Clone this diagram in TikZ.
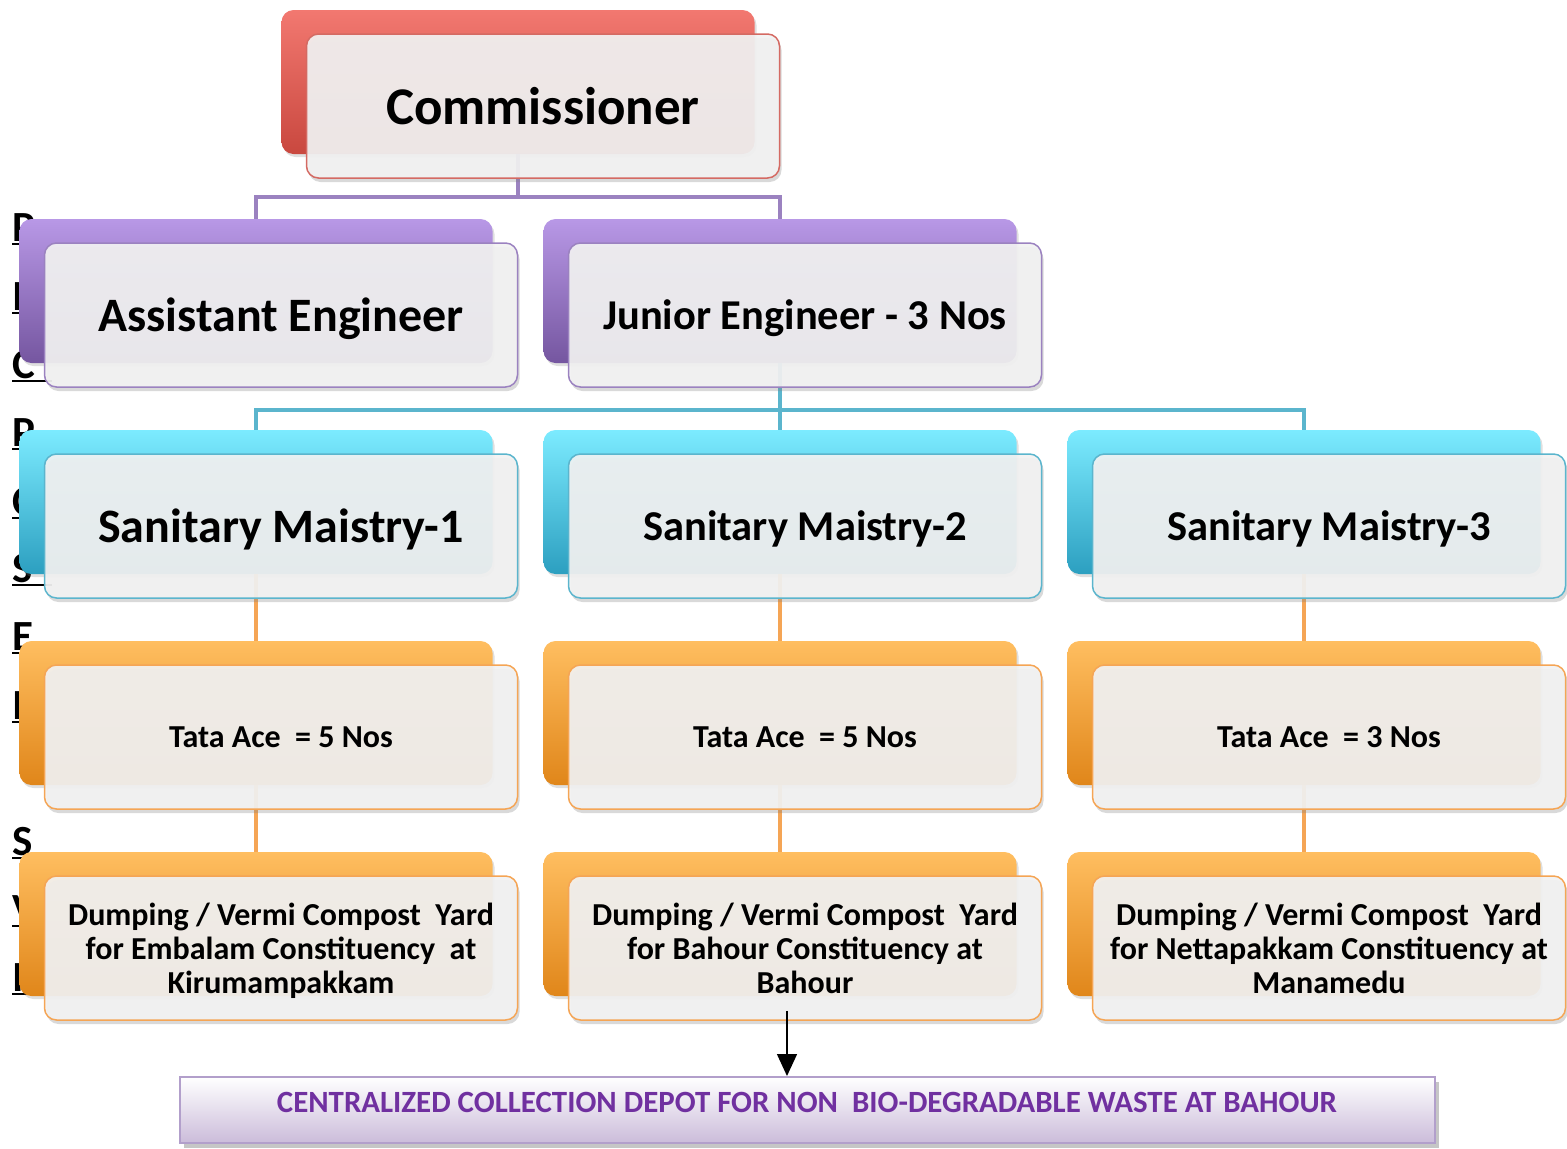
\documentclass[tikz,border=0pt]{standalone}
\usepackage{fontspec}
\setmainfont{Carlito}
\usetikzlibrary{shadows,arrows.meta}

\definecolor{redtop}{HTML}{F27870}
\definecolor{redmid}{HTML}{E35D53}
\definecolor{redbot}{HTML}{C9483F}
\definecolor{redline}{HTML}{D46A63}
\definecolor{purtop}{HTML}{B898E6}
\definecolor{purmid}{HTML}{9474BE}
\definecolor{purbot}{HTML}{7556A0}
\definecolor{purline}{HTML}{9B82C0}
\definecolor{cyntop}{HTML}{7CEBFF}
\definecolor{cynmid}{HTML}{46C4E2}
\definecolor{cynbot}{HTML}{2C9FC0}
\definecolor{cynline}{HTML}{5BB5CD}
\definecolor{orgtop}{HTML}{FFBE60}
\definecolor{orgmid}{HTML}{F7A035}
\definecolor{orgbot}{HTML}{E0861A}
\definecolor{orgline}{HTML}{F5A555}
\definecolor{depottop}{HTML}{FFFFFF}
\definecolor{depotbot}{HTML}{CBBCDA}
\definecolor{depotline}{HTML}{B29FCB}
\definecolor{depottext}{HTML}{7030A0}

\begin{document}
\begin{tikzpicture}[x=1pt,y=-1pt]
	\tikzstyle{back} = [rounded corners=12pt, minimum width=473pt, minimum height=144pt, inner sep=0pt, drop shadow={opacity=0.25, shadow xshift=2pt, shadow yshift=-3pt}]
	\tikzstyle{redback} = [back, top color=redtop, middle color=redmid, bottom color=redbot]
	\tikzstyle{purback} = [back, top color=purtop, middle color=purmid, bottom color=purbot]
	\tikzstyle{cynback} = [back, top color=cyntop, middle color=cynmid, bottom color=cynbot]
	\tikzstyle{orgback} = [back, top color=orgtop, middle color=orgmid, bottom color=orgbot]
	\tikzstyle{front} = [draw, line width=1.5pt, rounded corners=12pt, minimum width=473pt, minimum height=144pt, inner sep=0pt, text depth=0pt, fill=white!95!black, fill opacity=0.92, text opacity=1, align=center, drop shadow={opacity=0.3, shadow xshift=2pt, shadow yshift=-4pt}]
	\tikzstyle{title} = [front, text depth=-6pt]
	\tikzstyle{link} = [line width=4.5pt]
	\tikzstyle{sideltr} = [anchor=base west, inner sep=0pt, font=\fontsize{43}{43}\selectfont\bfseries]

	\useasboundingbox (0,0) rectangle (1567,1149);

	% letters left behind the boxes
	\foreach \ch/\yy [count=\i] in {P/241, I/310, C/378, P/446, C/515, S/582, E/650, I/719, S/855, V/923, I/991}
	{
		\node[sideltr] (ltr\i) at (12,\yy) {\ch};
		\draw[line width=1.5pt] ([yshift=-3pt]ltr\i.base west) -- ++(40,0);
	}

	% back boxes
	\node[redback] (commB) at (518,82) {};
	\node[purback] (aeB) at (256,291) {};
	\node[purback] (jeB) at (780,291) {};
	\node[cynback] (sm1B) at (256,502) {};
	\node[cynback] (sm2B) at (780,502) {};
	\node[cynback] (sm3B) at (1304,502) {};
	\node[orgback] (t1B) at (256,713) {};
	\node[orgback] (t2B) at (780,713) {};
	\node[orgback] (t3B) at (1304,713) {};
	\node[orgback] (d1B) at (256,924) {};
	\node[orgback] (d2B) at (780,924) {};
	\node[orgback] (d3B) at (1304,924) {};

	% connectors
	\draw[link, purline] (commB.south) -- ++(0,43) -| (aeB.north);
	\draw[link, purline] (commB.south) -- ++(0,43) -| (jeB.north);
	\draw[link, cynline] (jeB.south) -- ++(0,47) -| (sm1B.north);
	\draw[link, cynline] (jeB.south) -- ++(0,47) -| (sm2B.north);
	\draw[link, cynline] (jeB.south) -- ++(0,47) -| (sm3B.north);
	\draw[link, orgline] (sm1B.south) -- (t1B.north);
	\draw[link, orgline] (sm2B.south) -- (t2B.north);
	\draw[link, orgline] (sm3B.south) -- (t3B.north);
	\draw[link, orgline] (t1B.south) -- (d1B.north);
	\draw[link, orgline] (t2B.south) -- (d2B.north);
	\draw[link, orgline] (t3B.south) -- (d3B.north);

	% front boxes
	\node[front, draw=redline, font=\fontsize{53}{60}\selectfont\bfseries] (comm) at ([shift={(25,24)}]commB.center) {Commissioner};
	\node[title, draw=purline, font=\fontsize{48}{54}\selectfont\bfseries] (ae) at ([shift={(25,24)}]aeB.center) {Assistant Engineer};
	\node[title, draw=purline, font=\fontsize{42.5}{48}\selectfont\bfseries] (je) at ([shift={(25,24)}]jeB.center) {Junior Engineer - 3 Nos};
	\node[title, draw=cynline, font=\fontsize{48}{54}\selectfont\bfseries] (sm1) at ([shift={(25,24)}]sm1B.center) {Sanitary Maistry-1};
	\node[title, draw=cynline, font=\fontsize{42.5}{48}\selectfont\bfseries] (sm2) at ([shift={(25,24)}]sm2B.center) {Sanitary Maistry-2};
	\node[title, draw=cynline, font=\fontsize{42.5}{48}\selectfont\bfseries] (sm3) at ([shift={(25,24)}]sm3B.center) {Sanitary Maistry-3};
	\node[front, draw=orgline, font=\fontsize{32}{34}\selectfont\bfseries] (t1) at ([shift={(25,24)}]t1B.center) {Tata Ace\ \ = 5 Nos};
	\node[front, draw=orgline, font=\fontsize{32}{34}\selectfont\bfseries] (t2) at ([shift={(25,24)}]t2B.center) {Tata Ace\ \ = 5 Nos};
	\node[front, draw=orgline, font=\fontsize{32}{34}\selectfont\bfseries] (t3) at ([shift={(25,24)}]t3B.center) {Tata Ace\ \ = 3 Nos};
	\node[front, draw=orgline, font=\fontsize{32}{34}\selectfont\bfseries] (d1) at ([shift={(25,24)}]d1B.center) {Dumping / Vermi Compost\ \ Yard\\for Embalam Constituency\ \ at\\Kirumampakkam};
	\node[front, draw=orgline, font=\fontsize{32}{34}\selectfont\bfseries] (d2) at ([shift={(25,24)}]d2B.center) {Dumping / Vermi Compost\ \ Yard\\for Bahour Constituency at\\Bahour};
	\node[front, draw=orgline, font=\fontsize{32}{34}\selectfont\bfseries] (d3) at ([shift={(25,24)}]d3B.center) {Dumping / Vermi Compost\ \ Yard\\for Nettapakkam Constituency at\\Manamedu};

	% collection depot
	\node[draw=depotline, line width=2pt, top color=depottop, bottom color=depotbot, minimum width=1255pt, minimum height=66pt, inner sep=0pt, drop shadow={opacity=0.45, shadow xshift=4pt, shadow yshift=-5pt}] (depot) at (807,1110) {};
	\node[text=depottext, font=\fontsize{30.9}{33}\selectfont\bfseries, inner sep=0pt] (depotlbl) at ([yshift=8pt]depot.center) {CENTRALIZED COLLECTION DEPOT FOR NON\ \ BIO-DEGRADABLE WASTE AT BAHOUR};

	\draw[line width=1.5pt, -{Triangle[length=22pt, width=20pt]}] ([shift={(-18,-10)}]d2.south) -- ([xshift=-18pt]d2.south |- depot.north);
\end{tikzpicture}
\end{document}
